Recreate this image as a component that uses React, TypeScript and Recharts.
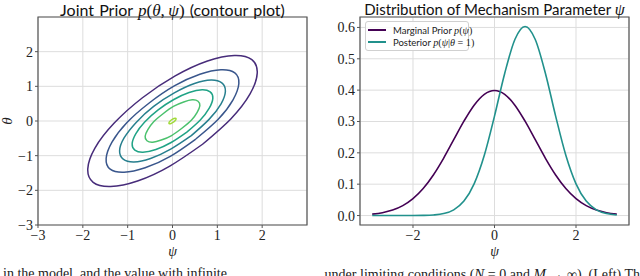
import React from 'react'
import { ScatterChart, Scatter, LineChart, Line, XAxis, YAxis, CartesianGrid, ReferenceArea } from 'recharts'

// left panel: contour lines of the joint prior, traced by eye (psi, theta)
const contourLevels = [0.04, 0.08, 0.12, 0.16, 0.2, 0.24]
const contourColors = ['#472c7a', '#39568c', '#277f8e', '#20a386', '#4ac16d', '#a0da39']

const contour004 = [
  [0.67, -0.67], [-0.06, -1.3], [-0.78, -1.73], [-1.38, -1.89], [-1.77, -1.77], [-1.89, -1.38],
  [-1.73, -0.78], [-1.3, -0.06], [-0.67, 0.67], [0.06, 1.3], [0.78, 1.73], [1.38, 1.89],
  [1.77, 1.77], [1.89, 1.38], [1.73, 0.78], [1.3, 0.06], [0.67, -0.67],
]
const contour008 = [
  [0.52, -0.52], [-0.05, -1.02], [-0.61, -1.35], [-1.08, -1.48], [-1.39, -1.39], [-1.48, -1.08],
  [-1.35, -0.61], [-1.02, -0.05], [-0.52, 0.52], [0.05, 1.02], [0.61, 1.35], [1.08, 1.48],
  [1.39, 1.39], [1.48, 1.08], [1.35, 0.61], [1.02, 0.05], [0.52, -0.52],
]
const contour012 = [
  [0.42, -0.42], [-0.04, -0.81], [-0.49, -1.08], [-0.86, -1.18], [-1.1, -1.1], [-1.18, -0.86],
  [-1.08, -0.49], [-0.81, -0.04], [-0.42, 0.42], [0.04, 0.81], [0.49, 1.08], [0.86, 1.18],
  [1.1, 1.1], [1.18, 0.86], [1.08, 0.49], [0.81, 0.04], [0.42, -0.42],
]
const contour016 = [
  [0.32, -0.32], [-0.03, -0.62], [-0.37, -0.82], [-0.66, -0.9], [-0.84, -0.84], [-0.9, -0.66],
  [-0.82, -0.37], [-0.62, -0.03], [-0.32, 0.32], [0.03, 0.62], [0.37, 0.82], [0.66, 0.9],
  [0.84, 0.84], [0.9, 0.66], [0.82, 0.37], [0.62, 0.03], [0.32, -0.32],
]
const contour020 = [
  [0.21, -0.21], [-0.02, -0.42], [-0.25, -0.55], [-0.44, -0.61], [-0.57, -0.57], [-0.61, -0.44],
  [-0.55, -0.25], [-0.42, -0.02], [-0.21, 0.21], [0.02, 0.42], [0.25, 0.55], [0.44, 0.61],
  [0.57, 0.57], [0.61, 0.44], [0.55, 0.25], [0.42, 0.02], [0.21, -0.21],
]
const contour024 = [
  [0.028, -0.028], [-0.033, -0.073], [-0.075, -0.075], [-0.073, -0.033], [-0.028, 0.028],
  [0.033, 0.073], [0.075, 0.075], [0.073, 0.033], [0.028, -0.028],
]
const contours = [contour004, contour008, contour012, contour016, contour020, contour024]
const gridTicks = [-3, -2, -1, 0, 1, 2]

// right panel: densities of psi
const psi = [
  -3, -2.75, -2.5, -2.25, -2, -1.75, -1.5, -1.25, -1, -0.75, -0.5, -0.25, 0,
  0.25, 0.5, 0.75, 1, 1.25, 1.5, 1.75, 2, 2.25, 2.5, 2.75, 3,
]
const marginalPrior = [
  0.0044, 0.0091, 0.0175, 0.0317, 0.054, 0.0863, 0.1295, 0.1826, 0.242, 0.3011, 0.3521, 0.3867, 0.3989,
  0.3867, 0.3521, 0.3011, 0.242, 0.1826, 0.1295, 0.0863, 0.054, 0.0317, 0.0175, 0.0091, 0.0044,
]
const posterior = [
  0, 0, 0, 0, 0.0001, 0.0005, 0.0019, 0.0062, 0.0182, 0.0461, 0.1012, 0.1924, 0.3172,
  0.4533, 0.5617, 0.6032, 0.5617, 0.4533, 0.3172, 0.1924, 0.1012, 0.0461, 0.0182, 0.0062, 0.0019,
]
const psiTicks = [-2, 0, 2]
const densityTicks = [0, 0.1, 0.2, 0.3, 0.4, 0.5, 0.6]

const priorColor = '#440154'
const posteriorColor = '#21918c'
const spine = '#555555'
const gridColor = '#dddddd'
const serif = '"Liberation Serif", "DejaVu Serif", serif'
const sans = 'Lato, "Open Sans", sans-serif'

const fmt = (v: number) => (v < 0 ? '\u2212' + Math.abs(v) : String(v))
const tickStyle = { fill: '#222', fontSize: 14, fontFamily: serif }

const densityRows = psi.map((p, i) => ({ psi: p, prior: marginalPrior[i], posterior: posterior[i] }))

const M = ({ children }: { children: React.ReactNode }) => (
  <span style={{ fontFamily: serif, fontStyle: 'italic', fontSize: '1.07em' }}>{children}</span>
)
const R = ({ children }: { children: React.ReactNode }) => (
  <span style={{ fontFamily: serif, fontSize: '1.07em' }}>{children}</span>
)

function ContourPanel() {
  return (
    <ScatterChart width={320} height={276} margin={{ top: 17, right: 13, left: 0, bottom: 0 }}>
      <CartesianGrid stroke={gridColor} strokeWidth={1} />
      <XAxis
        type="number"
        dataKey="x"
        domain={[-3, 3]}
        ticks={gridTicks}
        tickFormatter={fmt}
        allowDataOverflow
        height={51}
        tickSize={3}
        tickMargin={2}
        axisLine={false}
        tickLine={{ stroke: spine }}
        tick={tickStyle}
      />
      <YAxis
        type="number"
        dataKey="y"
        domain={[-3, 3]}
        ticks={gridTicks}
        tickFormatter={fmt}
        allowDataOverflow
        width={38}
        tickSize={3}
        tickMargin={2}
        axisLine={false}
        tickLine={{ stroke: spine }}
        tick={tickStyle}
      />
      <ReferenceArea x1={-3} x2={3} y1={-3} y2={3} fill="none" fillOpacity={0} stroke={spine} strokeWidth={1.2} />
      {contours.map((pts, i) => (
        <Scatter
          key={contourLevels[i]}
          name={String(contourLevels[i])}
          data={pts.map(([x, y]) => ({ x, y }))}
          fill={contourColors[i]}
          line={{ stroke: contourColors[i], strokeWidth: 1.5 }}
          lineJointType="natural"
          shape={() => <g />}
          isAnimationActive={false}
        />
      ))}
    </ScatterChart>
  )
}

function DensityPanel() {
  return (
    <LineChart width={320} height={276} data={densityRows} margin={{ top: 17, right: 11, left: 0, bottom: 0 }}>
      <CartesianGrid stroke={gridColor} strokeWidth={1} />
      <XAxis
        type="number"
        dataKey="psi"
        domain={[-3.3, 3.3]}
        ticks={psiTicks}
        tickFormatter={fmt}
        allowDataOverflow
        height={51}
        tickSize={3}
        tickMargin={2}
        axisLine={false}
        tickLine={{ stroke: spine }}
        tick={tickStyle}
      />
      <YAxis
        type="number"
        domain={[-0.0302, 0.6333]}
        ticks={densityTicks}
        tickFormatter={(v: number) => v.toFixed(1)}
        allowDataOverflow
        width={40}
        tickSize={3}
        tickMargin={2}
        axisLine={false}
        tickLine={{ stroke: spine }}
        tick={tickStyle}
      />
      <ReferenceArea x1={-3.3} x2={3.3} y1={-0.0302} y2={0.6333} fill="none" fillOpacity={0} stroke={spine} strokeWidth={1.2} />
      <Line type="monotone" dataKey="prior" stroke={priorColor} strokeWidth={1.6} dot={false} isAnimationActive={false} />
      <Line type="monotone" dataKey="posterior" stroke={posteriorColor} strokeWidth={1.6} dot={false} isAnimationActive={false} />
    </LineChart>
  )
}

const abs = (style: React.CSSProperties): React.CSSProperties => ({ position: 'absolute', whiteSpace: 'nowrap', ...style })

export default function App() {
  return (
    <div style={{ position: 'fixed', left: 0, top: 0, width: 640, height: 276, overflow: 'hidden', background: '#fff' }}>
      <div style={abs({ left: 0, top: 0 })}>
        <ContourPanel />
      </div>
      <div style={abs({ left: 320, top: 0 })}>
        <DensityPanel />
      </div>

      <div style={abs({ left: 28, width: 289, top: 0, textAlign: 'center', fontFamily: sans, fontSize: 16, lineHeight: '19px', color: '#111', wordSpacing: 1 })}>
        Joint Prior <M>p</M><R>(</R><M>θ</M><R>,&thinsp;</R><M>ψ</M><R>)</R> (contour plot)
      </div>
      <div style={abs({ left: 350, width: 289, top: 0, textAlign: 'center', fontFamily: sans, fontSize: 15, lineHeight: '19px', color: '#111' })}>
        Distribution of Mechanism Parameter <M>ψ</M>
      </div>

      <div style={abs({ left: 38, width: 269, top: 245, lineHeight: '14px', textAlign: 'center', fontFamily: serif, fontStyle: 'italic', fontSize: 14, color: '#222' })}>ψ</div>
      <div style={abs({ left: 360, width: 269, top: 245, lineHeight: '14px', textAlign: 'center', fontFamily: serif, fontStyle: 'italic', fontSize: 14, color: '#222' })}>ψ</div>
      <div style={abs({ left: 0, top: 112, width: 16, height: 18, transform: 'rotate(-90deg)', textAlign: 'center', fontFamily: serif, fontStyle: 'italic', fontSize: 15, color: '#222' })}>θ</div>

      <div style={abs({ left: 365, top: 21, width: 104, height: 30, boxSizing: 'border-box', border: '1px solid #d0d0d0', borderRadius: 3, background: 'rgba(255,255,255,0.85)', fontFamily: sans, fontSize: 9.5, color: '#222' })}>
        <div style={abs({ left: 2, top: 2, height: 12, display: 'flex', alignItems: 'center' })}>
          <span style={{ display: 'inline-block', width: 18, height: 2, background: priorColor, marginRight: 7 }} />
          Marginal Prior&nbsp;<M>p</M><R>(</R><M>ψ</M><R>)</R>
        </div>
        <div style={abs({ left: 2, top: 14, height: 12, display: 'flex', alignItems: 'center' })}>
          <span style={{ display: 'inline-block', width: 18, height: 2, background: posteriorColor, marginRight: 7 }} />
          Posterior&nbsp;<M>p</M><R>(</R><M>ψ</M><R>|</R><M>θ</M><R>&nbsp;=&nbsp;1)</R>
        </div>
      </div>

      <div style={abs({ left: 3, top: 266, fontFamily: serif, fontSize: 14, color: '#222' })}>
        in the model, and the value with infinite
      </div>
      <div style={abs({ right: 0, top: 266, fontFamily: serif, fontSize: 14, color: '#222' })}>
        under limiting conditions (<M>N</M> = 0 and <M>M</M> → ∞). (Left) Th
      </div>
    </div>
  )
}
